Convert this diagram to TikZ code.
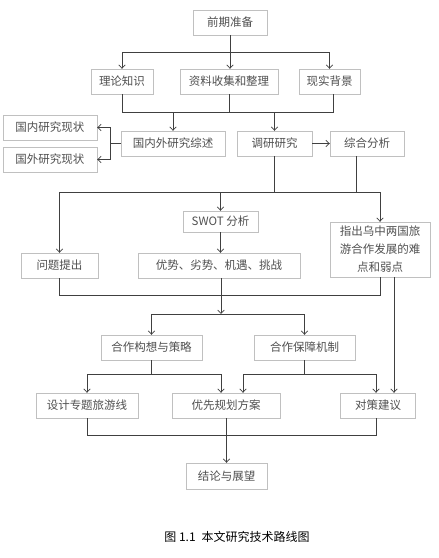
\documentclass[tikz,border=0pt]{standalone}
\usepackage{fontspec}
\newfontfamily\cjk{Noto Sans CJK SC}
\usetikzlibrary{arrows.meta}
\definecolor{boxgray}{RGB}{192,192,192}
\definecolor{linegray}{RGB}{64,64,64}
\definecolor{txtgray}{RGB}{80,80,80}
\tikzset{
  box/.style={draw=boxgray, fill=white, text=txtgray, inner sep=0pt,
    minimum height=25, font=\cjk\fontsize{11.5}{18}\selectfont},
  line/.style={draw=linegray, line width=0.7pt},
  arr/.style={line, -{Straight Barb[length=3.5pt,width=6.5pt]}}
}
\begin{document}
\begin{tikzpicture}[x=1pt, y=-1pt]
    \useasboundingbox (0,0) rectangle (439,558);

    % Stage 1: preparation
    \node[box, minimum width=74] (prep) at (230,22.5) {前期准备};
    \node[box, minimum width=62] (theory) at (122,81.5) {理论知识};
    \node[box, minimum width=98] (data) at (229,81.5) {资料收集和整理};
    \node[box, minimum width=61] (real) at (329.5,81.5) {现实背景};

    \coordinate (j1) at (230,52);
    \draw[line] (prep.south) -- (j1);
    \draw[arr] (j1) -| (theory);
    \draw[arr] (j1) -| (real);
    \draw[arr] (j1) -- (j1 |- data.north);

    % Stage 2: review and survey
    \node[box, minimum width=104] (review) at (173,143.5) {国内外研究综述};
    \node[box, minimum width=75] (survey) at (274.5,143.5) {调研研究};
    \node[box, minimum width=74] (synth) at (367,143.5) {综合分析};
    \node[box, minimum width=94] (dom) at (50,127.5) {国内研究现状};
    \node[box, minimum width=94] (abroad) at (50,159.5) {国外研究现状};

    \coordinate (j2) at (0,112);
    \draw[line] (theory.south) |- ([xshift=4]real.south |- j2) -- ([xshift=4]real.south);
    \draw[line] (data.south) -- (data.south |- j2);
    \draw[arr] (review.north |- j2) -- (review.north);
    \draw[arr] (survey.north |- j2) -- (survey.north);
    \draw[arr] (survey) -- (synth);

    \coordinate (j3) at (110,143.5);
    \draw[line] (review.west) -- (j3);
    \draw[arr] (j3) |- (dom.east);
    \draw[arr] (j3) |- (abroad.east);

    % Stage 3: analysis
    \node[box, minimum width=75, minimum height=21] (swot) at (220.5,221.5) {SWOT 分析};
    \node[box, minimum width=77] (issue) at (59.5,265.5) {问题提出};
    \node[box, minimum width=162] (swotd) at (219,265.5) {优势、劣势、机遇、挑战};
    \node[box, minimum width=100, minimum height=55, align=center] (diff) at (380,249.5)
        {指出乌中两国旅\\游合作发展的难\\点和弱点};

    \coordinate (j4) at (0,192);
    \draw[line] (survey.south) -- (survey.south |- j4);
    \draw[line] ([xshift=-11]synth.south) -- ([xshift=-11]synth.south |- j4);
    \draw[arr] (diff.north |- j4) -| (issue);
    \draw[arr] (diff.north |- j4) -- (diff.north);
    \draw[arr] (swot.north |- j4) -- (swot);
    \draw[arr] (swot.south) -- (swot.south |- swotd.north);

    \coordinate (j5) at (0,295);
    \coordinate (j6) at (221,314);
    \draw[line] (issue.south) |- (diff.south |- j5) -- (diff.south);
    \draw[arr] (j6 |- swotd.south) -- (j6);

    % Stage 4: strategy
    \node[box, minimum width=101] (idea) at (151.5,347.5) {合作构想与策略};
    \node[box, minimum width=101] (guar) at (304.5,347.5) {合作保障机制};
    \node[box, minimum width=102] (route) at (87,405.5) {设计专题旅游线};
    \node[box, minimum width=108] (plan) at (226,405.5) {优先规划方案};
    \node[box, minimum width=75] (adv) at (378,405.5) {对策建议};

    \draw[line] (idea.north |- j6) -- (guar.north |- j6);
    \draw[arr] (idea.north |- j6) -- (idea.north);
    \draw[arr] (guar.north |- j6) -- (guar.north);
    \draw[arr] ([xshift=14]diff.south) -- ([xshift=14]diff.south |- adv.north);

    \coordinate (j7) at (0,374);
    \draw[line] (idea.south) -- (idea.south |- j7);
    \draw[arr] ([xshift=-5]plan.north |- j7) -| (route);
    \draw[arr] ([xshift=-5]plan.north |- j7) -- ([xshift=-5]plan.north);
    \draw[line] (guar.south) -- (guar.south |- j7);
    \draw[arr] ([xshift=17]plan.north |- j7) -| ([xshift=-2]adv.north);
    \draw[arr] ([xshift=17]plan.north |- j7) -- ([xshift=17]plan.north);

    % Stage 5: conclusion
    \node[box, minimum width=81, minimum height=26] (concl) at (226.5,476) {结论与展望};

    \coordinate (j8) at (0,435);
    \draw[line] (route.south) |- ([xshift=-2]adv.south |- j8) -- ([xshift=-2]adv.south);
    \draw[line] (plan.south) -- (plan.south |- j8);
    \draw[arr] (concl.north |- j8) -- (concl.north);

    \node[font=\cjk\fontsize{12}{14}\selectfont] (caption) at (237,537) {图 1.1\enspace 本文研究技术路线图};
\end{tikzpicture}
\end{document}
